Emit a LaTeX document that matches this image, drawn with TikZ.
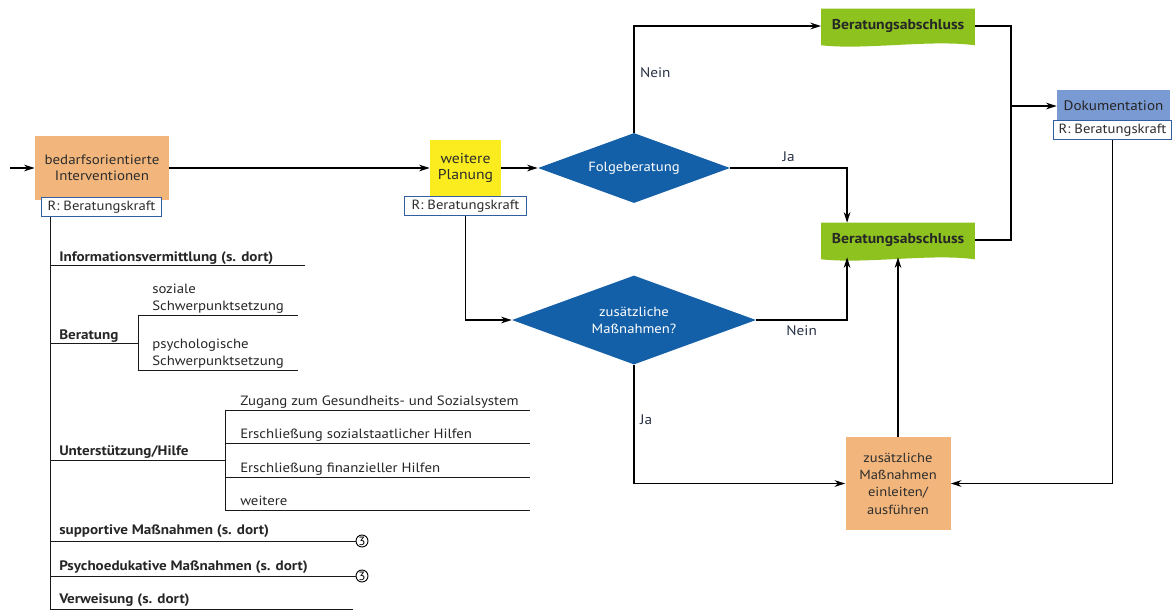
\documentclass[tikz,border=0pt]{standalone}
\usepackage{fontspec}
\setmainfont{PT Sans}[FakeStretch=1.1]
\usetikzlibrary{shapes.geometric,arrows.meta,backgrounds}

\definecolor{boxorange}{RGB}{242,182,124}
\definecolor{planyellow}{RGB}{250,236,30}
\definecolor{absgreen}{RGB}{141,194,31}
\definecolor{askblue}{RGB}{20,96,168}
\definecolor{dokublue}{RGB}{122,154,212}
\definecolor{tagblue}{RGB}{50,95,160}
\definecolor{txtgray}{RGB}{45,45,45}
\definecolor{labelnavy}{RGB}{40,50,70}

\tikzset{
  flow/.style={line width=1.1pt},
  flowarrow/.style={flow,-{Stealth[length=8pt,width=5pt]}},
  flowlabel/.style={text=labelnavy, font=\fontsize{10.4}{12}\selectfont, inner sep=4pt},
  stepbox/.style={fill=boxorange, text=txtgray, align=center, inner sep=2pt},
  planbox/.style={fill=planyellow, text=txtgray, align=center, font=\fontsize{10.7}{12}\selectfont,
    minimum width=53.25pt, minimum height=42pt, inner sep=2pt},
  askbox/.style={diamond, shape aspect=2.74, fill=askblue, text=white, align=center,
    font=\fontsize{10}{12.75}\selectfont, inner sep=1pt},
  absbox/.style={text=black!85, font=\bfseries\fontsize{10.7}{12}\selectfont, minimum width=115pt, minimum height=25.5pt},
  dokubox/.style={fill=dokublue, text=black!85, font=\fontsize{10.3}{12}\selectfont, minimum width=84.75pt, minimum height=24pt},
  tagbox/.style={draw=tagblue, line width=0.6pt, fill=white, text=txtgray, font=\fontsize{10}{12}\selectfont,
    minimum width=90pt, minimum height=14.5pt, inner sep=1pt},
  tree/.style={line width=0.7pt, draw=black!90},
  treehead/.style={anchor=base west, inner sep=0pt, text=black!85, font=\bfseries\fontsize{10.3}{12}\selectfont},
  treeitem/.style={anchor=base west, inner sep=0pt, text=black!85, align=left, font=\fontsize{10.1}{12.75}\selectfont},
  refmark/.style={circle, draw, line width=0.7pt, inner sep=0pt, minimum size=9pt, font=\fontsize{9}{9}\selectfont}
}

\begin{document}
\begin{tikzpicture}[x=0.75pt,y=0.75pt,yscale=-1,xscale=1]
\useasboundingbox (0,0) rectangle (1174,612);

% boxes of the flow
\node[stepbox, font=\fontsize{10.2}{12}\selectfont, minimum width=100.5pt, minimum height=48pt] (interv) at (102,168) {bedarfsorientierte\\Interventionen};
\node[tagbox] (tag1) at (101.5,207) {R: Beratungskraft};
\node[planbox] (plan) at (465.5,168) {weitere\\Planung};
\node[tagbox, minimum width=92pt] (tag2) at (465.5,206) {R: Beratungskraft};
\node[askbox, minimum width=144pt, minimum height=52.5pt] (folge) at (634,168) {Folgeberatung};
\node[askbox, minimum width=183pt, minimum height=66.75pt] (zusatz) at (634,320) {zusätzliche\\Maßnahmen?};
\node[absbox] (abs1) at (898,26) {Beratungsabschluss};
\node[absbox] (abs2) at (898,240) {Beratungsabschluss};
\node[dokubox] (doku) at (1113.5,106) {Dokumentation};
\node[tagbox, minimum width=89pt] (tag3) at (1112.5,130) {R: Beratungskraft};
\node[stepbox, font=\fontsize{9.9}{13}\selectfont, minimum width=78.75pt, minimum height=69.75pt] (einleit) at (898,483.5) {zusätzliche\\Maßnahmen\\einleiten/\\ausführen};

% wavy green fill under the two closing boxes
\begin{scope}[on background layer]
  \foreach \n in {abs1,abs2}
    \fill[absgreen] (\n.north west) -- (\n.north east) -- ([yshift=1.5pt]\n.south east)
      .. controls +(-45,-6) and +(45,5) .. ([yshift=1.5pt]\n.south west) -- cycle;
\end{scope}

% connectors
\coordinate (entry) at (10,168);
\coordinate (junction) at (1011,106);
\draw[flowarrow] (entry) -- (interv.west);
\draw[flowarrow] (interv.east) -- (plan.west);
\draw[flowarrow] (plan.east) -- (folge.west);
\draw[flowarrow] (folge.north) |- (abs1.west) node[pos=0.28, anchor=west, flowlabel] {Nein};
\draw[flow] (abs1.east) -| (junction) |- (abs2.east);
\draw[flowarrow] (junction) -- (doku.west);
\draw[flowarrow] (folge.east) -| ([xshift=19.5pt]abs2.north west) node[pos=0.25, above, flowlabel] {Ja};
\draw[flowarrow] (tag2.south) |- (zusatz.west);
\draw[flowarrow] (zusatz.east) -| ([xshift=19.5pt]abs2.south west) node[pos=0.25, below, flowlabel] {Nein};
\draw[flowarrow] (zusatz.south) |- (einleit.west) node[pos=0.23, anchor=west, flowlabel] {Ja};
\draw[flowarrow] (einleit.north) -- (abs2.south);
\draw[flowarrow] (tag3.south) |- (einleit.east);

% list of interventions
\coordinate (trunk) at (50,609);
\draw[tree] (trunk |- tag1.south) -- (trunk);

\node[treehead] (info) at (59,261) {Informationsvermittlung (s. dort)};
\draw[tree] (50,265) -- (305,265);

\node[treehead] (berat) at (59,339) {Beratung};
\draw[tree] (50,343) -- (138,343);
\draw[tree] (138,315) -- (138,370);
\draw[tree] (138,315) -- (298,315);
\draw[tree] (138,370) -- (298,370);
\node[treeitem] (sozial) at (152,310) {soziale\\Schwerpunktsetzung};
\node[treeitem] (psych) at (152,365) {psychologische\\Schwerpunktsetzung};

\node[treehead] (hilfe) at (59,455) {Unterstützung/Hilfe};
\draw[tree] (50,460) -- (225,460);
\draw[tree] (225,410) -- (225,510);
\foreach \y/\t [count=\i] in {410/Zugang zum Gesundheits- und Sozialsystem,
                              443/Erschließung sozialstaatlicher Hilfen,
                              477/Erschließung finanzieller Hilfen,
                              510/weitere}{
  \draw[tree] (225,\y) -- (530,\y);
  \node[treeitem] (hilfe\i) at (240,\y-5) {\t};
}

\node[treehead] (support) at (59,534) {supportive Maßnahmen (s. dort)};
\node[refmark] (ref1) at (362,541) {3};
\draw[tree] (50,541) -- (ref1.west);

\node[treehead] (psyedu) at (59,570) {Psychoedukative Maßnahmen (s. dort)};
\node[refmark] (ref2) at (362,576) {3};
\draw[tree] (50,576) -- (ref2.west);

\node[treehead] (verweis) at (59,603) {Verweisung (s. dort)};
\draw[tree] (50,609) -- (353,609);
\end{tikzpicture}
\end{document}
